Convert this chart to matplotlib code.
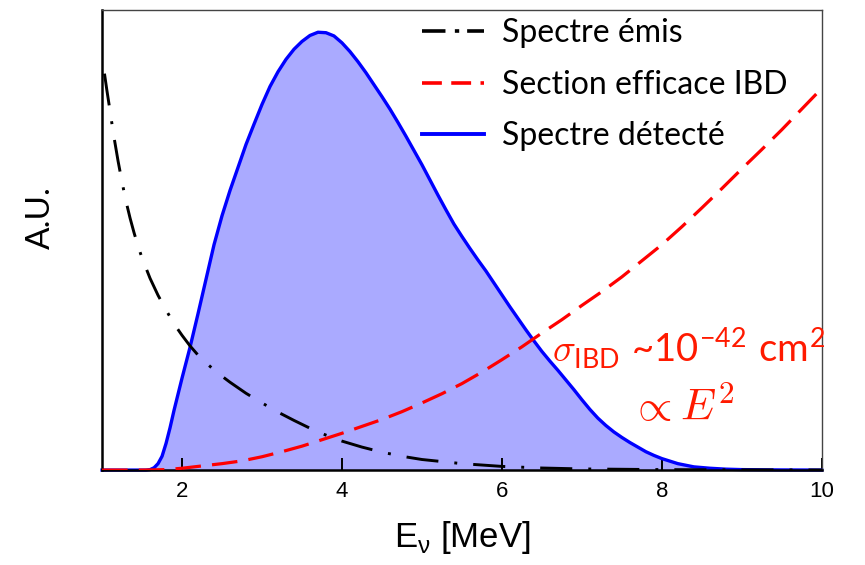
import numpy as np
import matplotlib
matplotlib.use("Agg")
import matplotlib.pyplot as plt
from matplotlib.lines import Line2D

# neutrino energy [MeV] and arbitrary-unit curves
E_emis = [1.03, 1.06, 1.09, 1.12, 1.15, 1.20, 1.25, 1.30, 1.35, 1.40, 1.45,
          1.50, 1.60, 1.70, 1.80, 1.90, 2.00, 2.10, 2.20, 2.30, 2.40, 2.50,
          2.60, 2.80, 3.00, 3.20, 3.40, 3.60, 3.80, 4.00, 4.25, 4.50, 4.75,
          5.00, 5.50, 6.00, 6.50, 7.00, 8.00, 9.00, 10.0]
S_emis = [0.862, 0.826, 0.792, 0.757, 0.723, 0.672, 0.626, 0.584, 0.548, 0.516,
          0.487, 0.461, 0.417, 0.380, 0.348, 0.318, 0.293, 0.270, 0.250, 0.233,
          0.218, 0.204, 0.191, 0.167, 0.146, 0.126, 0.108, 0.091, 0.076, 0.063,
          0.050, 0.039, 0.030, 0.023, 0.014, 0.008, 0.0045, 0.0025, 0.001,
          0.0004, 0.0002]

E_ibd = [1.0, 1.5, 1.8, 2.0, 2.25, 2.5, 2.75, 3.0, 3.25, 3.5, 3.75, 4.0, 4.25,
         4.5, 4.75, 5.0, 5.25, 5.5, 5.75, 6.0, 6.25, 6.5, 6.75, 7.0, 7.25, 7.5,
         7.75, 8.0, 8.25, 8.5, 8.75, 9.0, 9.25, 9.5, 9.75, 10.0]
S_ibd = [0.0, 0.0, 0.001, 0.004, 0.009, 0.014, 0.020, 0.029, 0.040, 0.052,
         0.066, 0.080, 0.095, 0.110, 0.127, 0.146, 0.166, 0.188, 0.213, 0.240,
         0.268, 0.298, 0.327, 0.358, 0.388, 0.420, 0.455, 0.490, 0.529, 0.570,
         0.612, 0.655, 0.697, 0.740, 0.785, 0.830]

E_det = [1.0, 1.55, 1.60, 1.65, 1.70, 1.75, 1.80, 1.85, 1.90, 2.00, 2.10, 2.20,
         2.30, 2.40, 2.50, 2.60, 2.70, 2.80, 2.90, 3.00, 3.10, 3.20, 3.30, 3.40,
         3.50, 3.60, 3.70, 3.80, 3.90, 4.00, 4.10, 4.20, 4.30, 4.40, 4.50, 4.60,
         4.70, 4.80, 4.90, 5.00, 5.10, 5.20, 5.30, 5.40, 5.50, 5.60, 5.70, 5.80,
         5.90, 6.00, 6.10, 6.20, 6.30, 6.40, 6.50, 6.60, 6.70, 6.80, 6.90, 7.00,
         7.10, 7.20, 7.30, 7.40, 7.50, 7.60, 7.70, 7.80, 7.90, 8.00, 8.20, 8.40,
         8.60, 8.80, 9.00, 9.50, 10.0]
S_det = [0.0, 0.0, 0.001, 0.005, 0.014, 0.030, 0.058, 0.092, 0.130, 0.200,
         0.267, 0.340, 0.415, 0.490, 0.553, 0.608, 0.658, 0.708, 0.752, 0.795,
         0.834, 0.866, 0.893, 0.915, 0.932, 0.945, 0.952, 0.951, 0.944, 0.929,
         0.910, 0.888, 0.864, 0.838, 0.812, 0.785, 0.756, 0.726, 0.695, 0.664,
         0.631, 0.598, 0.566, 0.535, 0.508, 0.482, 0.457, 0.433, 0.407, 0.381,
         0.355, 0.330, 0.305, 0.281, 0.258, 0.237, 0.217, 0.196, 0.175, 0.153,
         0.132, 0.113, 0.097, 0.083, 0.071, 0.060, 0.050, 0.040, 0.032, 0.025,
         0.014, 0.007, 0.004, 0.002, 0.001, 0.0003, 0.0]

XTICKS = [2, 4, 6, 8, 10]
LABELS = ["Spectre émis", "Section efficace IBD", "Spectre détecté"]

SANS = ["Lato", "DejaVu Sans"]
RED_TXT = "#ff1a00"

fig = plt.figure(figsize=(8.65, 5.65), dpi=100)
ax = fig.add_axes([0.118, 0.168, 0.832, 0.814])

ax.fill_between(E_det, 0, S_det, color="#aaaaff", lw=0, zorder=1)
ax.plot(E_emis, S_emis, color="black", lw=2.1,
        dashes=(11, 5.5, 1, 5.5), zorder=3)
ax.plot(E_ibd, S_ibd, color="#ff0000", lw=2.3, dashes=(8, 3.5), zorder=4)
ax.plot(E_det, S_det, color="#0000ff", lw=2.4, zorder=2, clip_on=False)

ax.set_xlim(1, 10)
ax.set_ylim(0, 1)
ax.set_yticks([])
ax.set_xticks(XTICKS)
ax.tick_params(axis="x", direction="in", length=9, width=1.4,
               labelsize=16, pad=8)
for lab in ax.get_xticklabels():
    lab.set_family("Liberation Sans")

for side in ("left", "bottom"):
    ax.spines[side].set_linewidth(1.8)
for side in ("top", "right"):
    ax.spines[side].set_linewidth(1.0)
    ax.spines[side].set_color("#444444")

ax.set_xlabel("E$_{\\mathregular{ν}}$ [MeV]", fontsize=25,
              family="Liberation Sans", labelpad=12)
ax.set_ylabel("A.U.", fontsize=24, family=SANS)
ax.yaxis.set_label_coords(-0.064, 0.548)

# legend keys use a tighter dash pattern than the curves
keys = [
    Line2D([], [], color="black", lw=2.6, dashes=(6.5, 2.6, 1.2, 2.2)),
    Line2D([], [], color="#ff0000", lw=2.6, dashes=(5.5, 2.6)),
    Line2D([], [], color="#0000ff", lw=2.8),
]
ax.legend(keys, LABELS, loc="upper left",
          bbox_to_anchor=(0.44, 0.99), frameon=False,
          prop={"family": SANS, "size": 23}, handlelength=1.95,
          handletextpad=0.55, labelspacing=0.68, borderpad=0.1,
          borderaxespad=0)

ax.text(0.625, 0.235,
        r"$\sigma_{\mathregular{IBD}}$ ~10$^{\mathregular{-42}}$ cm$^{\mathregular{2}}$",
        transform=ax.transAxes, color=RED_TXT, fontsize=27.5, family=SANS,
        math_fontfamily="cm", va="baseline", ha="left", clip_on=False)
ax.text(0.733, 0.106, r"$\propto E^2$", transform=ax.transAxes,
        color=RED_TXT, fontsize=32, math_fontfamily="cm",
        va="baseline", ha="left")

fig.savefig("out.png", dpi=100)
